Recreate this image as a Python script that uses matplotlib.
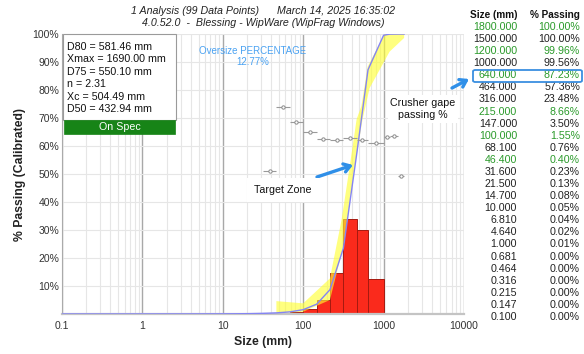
import numpy as np
import matplotlib
matplotlib.use('Agg')
import matplotlib.pyplot as plt
from matplotlib.patches import Rectangle, FancyBboxPatch
from matplotlib.ticker import FixedLocator, NullFormatter, LogLocator

plt.rcParams['font.family'] = ['Liberation Sans', 'DejaVu Sans']

# ---------------- data ----------------
sizes_mm = [1800.0, 1500.0, 1200.0, 1000.0, 640.0, 464.0, 316.0, 215.0, 147.0,
            100.0, 68.1, 46.4, 31.6, 21.5, 14.7, 10.0, 6.81, 4.64, 1.0, 0.681,
            0.464, 0.316, 0.215, 0.147, 0.1]
passing_pct = [100.00, 100.00, 99.96, 99.56, 87.23, 57.36, 23.48, 8.66, 3.50,
               1.55, 0.76, 0.40, 0.23, 0.13, 0.08, 0.05, 0.04, 0.02, 0.01, 0.00,
               0.00, 0.00, 0.00, 0.00, 0.00]
green_rows = [1800.0, 1200.0, 640.0, 215.0, 100.0, 46.4]

# histogram (% retained between consecutive sizes, ascending)
bin_edges = [0.1, 0.147, 0.215, 0.316, 0.464, 0.681, 1.0, 4.64, 6.81, 10.0, 14.7,
             21.5, 31.6, 46.4, 68.1, 100.0, 147.0, 215.0, 316.0, 464.0, 640.0,
             1000.0, 1200.0, 1500.0, 1800.0]
retained_pct = [0, 0, 0, 0, 0, 0.01, 0.01, 0.02, 0.01, 0.03, 0.05, 0.10, 0.17,
                0.36, 0.79, 1.95, 5.16, 14.82, 33.88, 29.87, 12.33, 0.40, 0.04, 0]

# uncertainty band
band_up_size = [46.4, 100, 215, 300, 378, 462, 530, 633, 1028, 1800]
band_up_pct = [4.6, 3.8, 12.7, 33.6, 52.5, 69.6, 74.3, 88.3, 100, 100]
band_lo_size = [46.4, 100, 215, 261, 328, 424, 548, 670, 1188, 1800]
band_lo_pct = [0.3, 0.8, 5.0, 14.6, 26.4, 50.4, 69.6, 80.7, 93.7, 98.6]

# grey markers with horizontal bin-range bars
mk_lo = [31.6, 46.4, 68.1, 100, 147, 215, 316, 464, 640, 1000, 1200, 1500]
mk_hi = [46.4, 68.1, 100, 147, 215, 316, 464, 640, 1000, 1200, 1500, 1800]
mk_pct = [51.2, 73.9, 68.5, 64.9, 62.4, 62.0, 62.7, 62.1, 61.2, 63.1, 63.6, 49.4]

stats_lines = ["D80 = 581.46 mm", "Xmax = 1690.00 mm", "D75 = 550.10 mm",
               "n = 2.31", "Xc = 504.49 mm", "D50 = 432.94 mm"]

W, H = 584, 354
def fx(x): return x / W
def fy(y): return 1 - y / H

fig = plt.figure(figsize=(W / 100, H / 100), dpi=100)
ax = fig.add_axes([fx(62), fy(314), (464 - 62) / W, (314 - 34) / H])
ax.set_xscale('log')
ax.set_xlim(0.1, 10000)
ax.set_ylim(0, 100)

# grid
ax.set_axisbelow(True)
ax.xaxis.set_major_locator(FixedLocator([0.1, 1, 10, 100, 1000, 10000]))
ax.xaxis.set_minor_locator(LogLocator(base=10, subs=np.arange(2, 10)))
ax.xaxis.set_minor_formatter(NullFormatter())
ax.set_xticklabels(['0.1', '1', '10', '100', '1000', '10000'])
ax.set_yticks(range(10, 101, 10))
ax.set_yticklabels([f'{v}%' for v in range(10, 101, 10)])
ax.grid(which='major', axis='x', color='#a8a8a8', lw=1.0)
ax.grid(which='minor', axis='x', color='#e6e6e6', lw=0.8)
ax.grid(which='major', axis='y', color='#e6e6e6', lw=0.8)
ax.tick_params(which='both', length=0)
ax.tick_params(axis='y', pad=2, labelsize=7.5, labelcolor='#333333')
ax.tick_params(axis='x', pad=5, labelsize=7.5, labelcolor='#333333')
for s in ['top', 'right']:
    ax.spines[s].set_visible(False)
ax.spines['left'].set_color('#aaaaaa')
ax.spines['bottom'].set_color('#c4c4c4')
ax.spines['bottom'].set_linewidth(1.6)

# histogram bars
edges = np.array(bin_edges)
ax.bar(edges[:-1], retained_pct, width=np.diff(edges), align='edge',
       color='#fa2a1c', edgecolor='#a51a10', linewidth=0.7, zorder=2)

# band
poly_x = list(band_up_size) + list(band_lo_size)[::-1]
poly_y = list(band_up_pct) + list(band_lo_pct)[::-1]
ax.fill(poly_x, poly_y, color='#ffff30', alpha=0.62, lw=0, zorder=3)

# cumulative curve
ax.plot(sizes_mm, passing_pct, color='#8484f4', lw=1.0, zorder=4)

# grey markers
mk_lo_a = np.array(mk_lo); mk_hi_a = np.array(mk_hi)
mk_x = np.sqrt(mk_lo_a * mk_hi_a)
ax.errorbar(mk_x, mk_pct, xerr=[mk_x - mk_lo_a, mk_hi_a - mk_x], fmt='o',
            ms=2.4, mfc='white', mec='#8a8a8a', mew=0.7, ecolor='#9a9a9a',
            elinewidth=0.8, capsize=0, zorder=5)

# titles
fig.text(fx(263), fy(11), "1 Analysis (99 Data Points)      March 14, 2025 16:35:02",
         ha='center', va='center', style='italic', fontsize=7.7, color='#222222')
fig.text(fx(263), fy(23), "4.0.52.0  -  Blessing - WipWare (WipFrag Windows)",
         ha='center', va='center', style='italic', fontsize=7.7, color='#222222')
fig.text(fx(20), fy(175), "% Passing (Calibrated)", rotation=90, ha='center',
         va='center', fontweight='bold', fontsize=8.8, color='#222222')
fig.text(fx(263), fy(342), "Size (mm)", ha='center', va='center',
         fontweight='bold', fontsize=8.8, color='#222222')

# stats box
fig.patches.append(Rectangle((fx(63), fy(120)), (176 - 63) / W, (120 - 34) / H,
                             transform=fig.transFigure, facecolor='white',
                             edgecolor='#9a9a9a', lw=0.8, zorder=10))
for i, line in enumerate(stats_lines):
    fig.text(fx(67), fy(47 + i * 12.4), line, ha='left', va='center',
             fontsize=7.7, color='#111111', zorder=11)
fig.patches.append(Rectangle((fx(64), fy(134)), (175 - 64) / W, 14 / H,
                             transform=fig.transFigure, facecolor='#178417',
                             edgecolor='#178417', lw=0.5, zorder=10))
fig.text(fx(119.5), fy(127), "On Spec", ha='center', va='center', fontsize=7.7,
         color='white', zorder=11)

# oversize text
fig.text(fx(253), fy(51), "Oversize PERCENTAGE", ha='center', va='center',
         fontsize=7, color='#4aa2f2')
fig.text(fx(253), fy(62), "12.77%", ha='center', va='center', fontsize=7,
         color='#4aa2f2')

# annotations
fig.text(fx(283), fy(190), "Target Zone", ha='center', va='center', fontsize=7.7,
         color='#111111', zorder=8,
         bbox=dict(facecolor='white', edgecolor='none', pad=5))
fig.text(fx(423), fy(109), "Crusher gape\npassing %", ha='center', va='center',
         fontsize=7.7, color='#111111', linespacing=1.3, zorder=8,
         bbox=dict(facecolor='white', edgecolor='none', pad=2))
arrow_kw = dict(arrowstyle='->,head_length=0.45,head_width=0.3', color='#2f8fe8',
                lw=2.4, shrinkA=0, shrinkB=0)
ax.annotate('', xy=(fx(353), fy(165)), xytext=(fx(317), fy(177)),
            xycoords='figure fraction', textcoords='figure fraction',
            arrowprops=arrow_kw, zorder=9)
ax.annotate('', xy=(fx(469), fy(79)), xytext=(fx(452), fy(88)),
            xycoords='figure fraction', textcoords='figure fraction',
            arrowprops=arrow_kw, zorder=9)

# table
fig.text(fx(517), fy(15), "Size (mm)", ha='right', va='center', fontsize=7.2,
         fontweight='bold', color='#111111')
fig.text(fx(580), fy(15), "% Passing", ha='right', va='center', fontsize=7.2,
         fontweight='bold', color='#111111')
for i, (s, p) in enumerate(zip(sizes_mm, passing_pct)):
    col = '#2a9a2a' if s in green_rows else '#222222'
    yy = fy(27 + i * 12.08)
    fig.text(fx(517), yy, f"{s:.3f}", ha='right', va='center', fontsize=7.7, color=col)
    fig.text(fx(580), yy, f"{p:.2f}%", ha='right', va='center', fontsize=7.7, color=col)

fig.patches.append(FancyBboxPatch((fx(473), fy(82)), 109 / W, 12 / H,
                                  boxstyle='round,pad=0,rounding_size=0.004',
                                  transform=fig.transFigure, facecolor='none',
                                  edgecolor='#3a8fe0', lw=1.3, zorder=10))

fig.savefig('out.png', dpi=100)
